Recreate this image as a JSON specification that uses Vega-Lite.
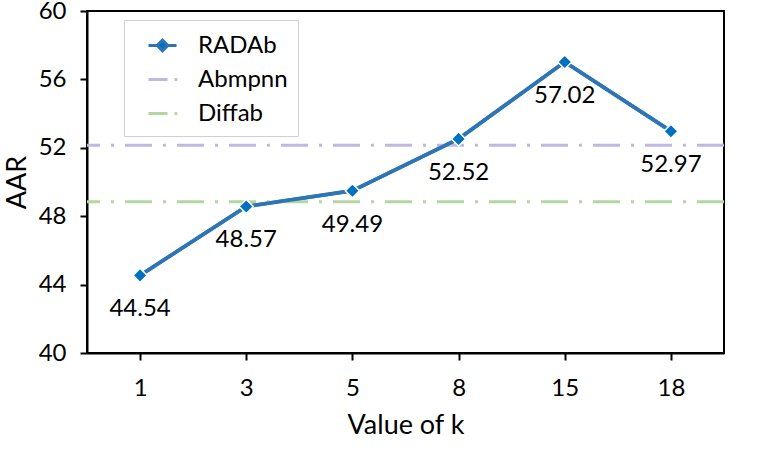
{
  "$schema": "https://vega.github.io/schema/vega-lite/v6.json",
  "autosize": {"type": "none"},
  "padding": {"left": 87, "top": 11, "right": 37, "bottom": 101},
  "width": 637,
  "height": 342,
  "background": "white",
  "datasets": {
    "radab": [
      {"k": 1, "AAR": 44.54, "method": "RADAb"},
      {"k": 3, "AAR": 48.57, "method": "RADAb"},
      {"k": 5, "AAR": 49.49, "method": "RADAb"},
      {"k": 8, "AAR": 52.52, "method": "RADAb"},
      {"k": 15, "AAR": 57.02, "method": "RADAb"},
      {"k": 18, "AAR": 52.97, "method": "RADAb"}
    ],
    "baselines": [
      {"method": "Abmpnn", "AAR": 52.15},
      {"method": "Diffab", "AAR": 48.85}
    ]
  },
  "layer": [
    {
      "data": {"name": "radab"},
      "mark": {"type": "line", "strokeWidth": 3.5},
      "encoding": {
        "x": {
          "field": "k",
          "type": "ordinal",
          "scale": {"type": "point", "padding": 0.5},
          "axis": {"title": "Value of k", "labelAngle": 0, "labelPadding": 16, "titlePadding": 12}
        },
        "y": {
          "field": "AAR",
          "type": "quantitative",
          "scale": {"domain": [40, 60], "nice": false},
          "axis": {"title": "AAR", "values": [40, 44, 48, 52, 56, 60], "labelPadding": 14, "titlePadding": 7}
        },
        "color": {
          "field": "method",
          "type": "nominal",
          "scale": {"domain": ["RADAb", "Abmpnn", "Diffab"], "range": ["#2e75b6", "#c0b8e4", "#b5d6a0"]},
          "legend": {
            "title": null,
            "orient": "none",
            "legendX": 37,
            "legendY": 9,
            "padding": 10,
            "symbolOffset": 13,
            "symbolSize": 784,
            "symbolStrokeWidth": 3,
            "labelOffset": 20,
            "rowPadding": 6,
            "strokeColor": "#d0d0d0",
            "fillColor": "white",
            "labelFont": "Lato",
            "labelFontSize": 24,
            "labelColor": "black",
            "labelExpr": "datum.label + '\u00a0\u00a0\u00a0'",
            "encode": {
              "symbols": {
                "update": {
                  "shape": {"signal": "datum.value === 'RADAb' ? 'M-1,0H-0.3M0.3,0H1M0,-0.38L0.38,0L0,0.38L-0.38,0Z' : 'M-1,0H0.36M0.86,0H1.06'"},
                  "fill": {"signal": "datum.value === 'RADAb' ? '#0070c0' : 'transparent'"},
                  "strokeWidth": {"value": 3},
                  "opacity": {"value": 1}
                }
              }
            }
          }
        }
      }
    },
    {
      "data": {"name": "baselines"},
      "mark": {"type": "rule", "strokeWidth": 3, "strokeDash": [27, 11, 3, 11]},
      "encoding": {
        "y": {"field": "AAR", "type": "quantitative"},
        "color": {"field": "method", "type": "nominal"}
      }
    },
    {
      "data": {"name": "radab"},
      "mark": {"type": "line", "strokeWidth": 3.8, "color": "#2e75b6"},
      "encoding": {
        "x": {"field": "k", "type": "ordinal"},
        "y": {"field": "AAR", "type": "quantitative"}
      }
    },
    {
      "data": {"name": "radab"},
      "mark": {"type": "point", "shape": "diamond", "filled": true, "size": 200, "fill": "#0070c0", "stroke": "white", "strokeWidth": 1.5, "opacity": 1},
      "encoding": {
        "x": {"field": "k", "type": "ordinal"},
        "y": {"field": "AAR", "type": "quantitative"}
      }
    },
    {
      "data": {"name": "radab"},
      "mark": {"type": "text", "font": "Lato", "fontSize": 24, "color": "black", "dy": 34, "align": "center", "baseline": "middle"},
      "encoding": {
        "x": {"field": "k", "type": "ordinal"},
        "y": {"field": "AAR", "type": "quantitative"},
        "text": {"field": "AAR", "type": "quantitative", "format": ".2f"}
      }
    }
  ],
  "config": {
    "font": "Lato",
    "view": {"stroke": "black", "strokeWidth": 2},
    "axis": {
      "grid": false,
      "domainColor": "black",
      "domainWidth": 2,
      "tickColor": "black",
      "tickWidth": 2,
      "tickSize": 7,
      "labelFont": "Lato",
      "labelFontSize": 24,
      "labelColor": "black",
      "titleFont": "Lato",
      "titleFontSize": 27,
      "titleFontWeight": "normal",
      "titleColor": "black"
    }
  }
}
